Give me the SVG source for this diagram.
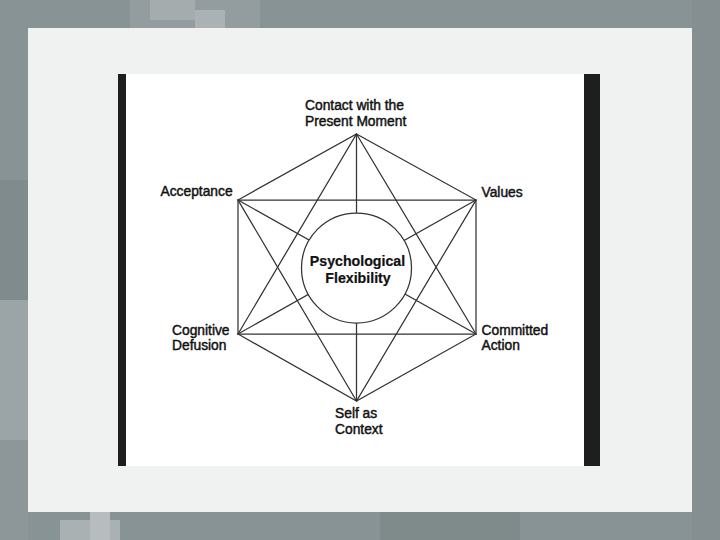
<svg xmlns="http://www.w3.org/2000/svg" width="720" height="540" viewBox="0 0 720 540">
  <style>
    .lbl { font-family: "Liberation Sans", Arial, sans-serif; font-size: 13.8px; fill: #111; stroke: #111; stroke-width: 0.45; }
    .ctr { font-family: "Liberation Sans", Arial, sans-serif; font-size: 14.2px; font-weight: bold; fill: #111; stroke: #111; stroke-width: 0.2; text-anchor: middle; }
    .ln { stroke: #333; stroke-width: 1.25; fill: none; stroke-linecap: round; }
  </style>
  <!-- background mosaic -->
  <rect x="0" y="0" width="720" height="540" fill="#889395"/>
  <rect x="130" y="0" width="130" height="28" fill="#939d9f"/>
  <rect x="150" y="0" width="45" height="20" fill="#a4acae"/>
  <rect x="195" y="10" width="30" height="18" fill="#aab2b3"/>
  <rect x="0" y="180" width="28" height="160" fill="#7f8b8c"/>
  <rect x="0" y="300" width="28" height="140" fill="#9ba4a6"/>
  <rect x="0" y="440" width="28" height="100" fill="#8d9799"/>
  <rect x="60" y="520" width="60" height="20" fill="#a9b1b2"/>
  <rect x="90" y="512" width="20" height="28" fill="#b7bdbe"/>
  <rect x="380" y="512" width="140" height="28" fill="#7f8a8b"/>
  <rect x="692" y="0" width="28" height="540" fill="#858f91"/>
  <!-- panel -->
  <rect x="28" y="28" width="664" height="484" fill="#f0f2f2"/>
  <!-- slide -->
  <rect x="118" y="74" width="482" height="392" fill="#1e1e1e"/>
  <rect x="126" y="74" width="458" height="392" fill="#ffffff"/>

  <g id="connectors">
    <!-- hexagon -->
    <polygon class="ln" points="356.5,134 476,200 476,334 356.5,401 238,334 238,200"/>
    <!-- triangles -->
    <polygon class="ln" points="356.5,134 476,334 238,334"/>
    <polygon class="ln" points="356.5,401 238,200 476,200"/>
    <!-- diagonals -->
    <line class="ln" x1="356.5" y1="134" x2="356.5" y2="401"/>
    <line class="ln" x1="238" y1="200" x2="476" y2="334"/>
    <line class="ln" x1="476" y1="200" x2="238" y2="334"/>
  </g>

  <g id="psychological-flexibility">
    <circle cx="356.5" cy="268" r="55" fill="#ffffff" stroke="#333" stroke-width="1.25"/>
    <text class="ctr" x="357.5" y="266">Psychological</text>
    <text class="ctr" x="358" y="283">Flexibility</text>
  </g>
  <g id="contact-present-moment">
    <text class="lbl" x="305" y="110">Contact with the</text>
    <text class="lbl" x="305" y="125.5">Present Moment</text>
  </g>
  <g id="acceptance">
    <text class="lbl" x="160.5" y="196">Acceptance</text>
  </g>
  <g id="values">
    <text class="lbl" x="481.5" y="197">Values</text>
  </g>
  <g id="cognitive-defusion">
    <text class="lbl" x="172" y="334.5">Cognitive</text>
    <text class="lbl" x="172" y="350">Defusion</text>
  </g>
  <g id="committed-action">
    <text class="lbl" x="481.5" y="334.5">Committed</text>
    <text class="lbl" x="481.5" y="350">Action</text>
  </g>
  <g id="self-as-context">
    <text class="lbl" x="335" y="418">Self as</text>
    <text class="lbl" x="335" y="433.5">Context</text>
  </g>
</svg>
